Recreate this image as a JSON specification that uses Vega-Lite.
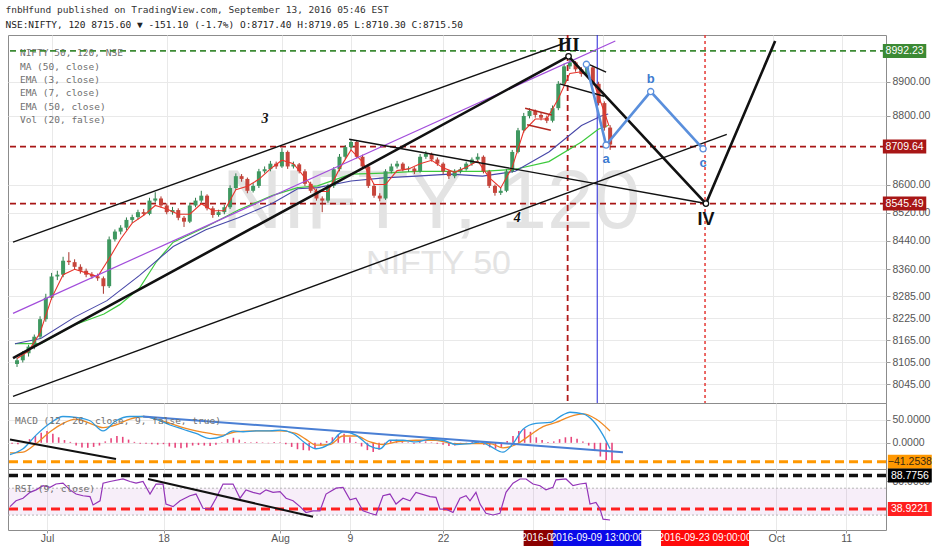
{
"$schema": "https://vega.github.io/schema/vega-lite/v6.json",
"background": "#ffffff",
"padding": {"left": 5, "top": 4, "right": 0, "bottom": 0},
"spacing": 0,
"bounds": "flush",
"title": {"text": "fnbHfund published on TradingView.com, September 13, 2016 05:46 EST", "subtitle": "NSE:NIFTY, 120 8715.60 ▼ -151.10 (-1.7%) O:8717.40 H:8719.05 L:8710.30 C:8715.50", "anchor": "start", "font": "DejaVu Sans Mono", "fontSize": 9.5, "fontWeight": "normal", "color": "#333333", "subtitleFont": "DejaVu Sans Mono", "subtitleFontSize": 9.5, "subtitleColor": "#222222", "subtitlePadding": 6, "offset": 4},
"config": {"view": {"stroke": "#8c8c8c", "strokeWidth": 1}, "axis": {"labelFont": "Liberation Sans", "labelFontSize": 10.5, "labelColor": "#555555", "tickColor": "#999999", "gridColor": "#e9e9e9", "domainColor": "#8c8c8c"}, "text": {"font": "Liberation Sans"}},
"datasets": {
"bars": [
{"d":-3.0,"o":8100,"h":8116,"l":8092,"c":8110,"m":-2},
{"d":-2.5,"o":8110,"h":8135,"l":8104,"c":8129,"m":-3},
{"d":-2.0,"o":8129,"h":8152,"l":8120,"c":8147,"m":2},
{"d":-1.5,"o":8147,"h":8180,"l":8140,"c":8174,"m":8},
{"d":-1.0,"o":8174,"h":8230,"l":8168,"c":8222,"m":15},
{"d":-0.5,"o":8222,"h":8292,"l":8215,"c":8281,"m":22},
{"d":0.0,"o":8281,"h":8350,"l":8276,"c":8340,"m":26},
{"d":0.5,"o":8340,"h":8356,"l":8330,"c":8345,"m":20},
{"d":1.0,"o":8345,"h":8395,"l":8338,"c":8384,"m":12},
{"d":1.5,"o":8384,"h":8408,"l":8372,"c":8380,"m":6},
{"d":2.0,"o":8380,"h":8388,"l":8360,"c":8367,"m":2},
{"d":2.5,"o":8367,"h":8374,"l":8348,"c":8356,"m":-6},
{"d":3.0,"o":8356,"h":8362,"l":8338,"c":8345,"m":-10},
{"d":3.5,"o":8345,"h":8352,"l":8334,"c":8340,"m":-11},
{"d":4.0,"o":8340,"h":8348,"l":8328,"c":8335,"m":-9},
{"d":4.5,"o":8335,"h":8340,"l":8292,"c":8313,"m":-6},
{"d":5.0,"o":8313,"h":8452,"l":8308,"c":8444,"m":3},
{"d":5.5,"o":8444,"h":8472,"l":8438,"c":8466,"m":10},
{"d":6.0,"o":8466,"h":8484,"l":8458,"c":8477,"m":15},
{"d":6.5,"o":8477,"h":8506,"l":8470,"c":8499,"m":13},
{"d":7.0,"o":8499,"h":8514,"l":8490,"c":8507,"m":7},
{"d":7.5,"o":8507,"h":8528,"l":8500,"c":8521,"m":2},
{"d":8.0,"o":8521,"h":8530,"l":8510,"c":8516,"m":-2},
{"d":8.5,"o":8516,"h":8562,"l":8512,"c":8554,"m":-2},
{"d":9.0,"o":8554,"h":8578,"l":8548,"c":8560,"m":-3},
{"d":9.5,"o":8560,"h":8566,"l":8534,"c":8540,"m":-4},
{"d":10.0,"o":8540,"h":8546,"l":8515,"c":8521,"m":-3},
{"d":10.5,"o":8521,"h":8536,"l":8514,"c":8527,"m":-8},
{"d":11.0,"o":8527,"h":8532,"l":8498,"c":8505,"m":-11},
{"d":11.5,"o":8505,"h":8510,"l":8479,"c":8494,"m":-12},
{"d":12.0,"o":8494,"h":8548,"l":8490,"c":8540,"m":-10},
{"d":12.5,"o":8540,"h":8562,"l":8535,"c":8554,"m":-6},
{"d":13.0,"o":8554,"h":8582,"l":8548,"c":8568,"m":-5},
{"d":13.5,"o":8568,"h":8572,"l":8526,"c":8532,"m":-6},
{"d":14.0,"o":8532,"h":8538,"l":8505,"c":8513,"m":-7},
{"d":14.5,"o":8513,"h":8528,"l":8508,"c":8521,"m":-4},
{"d":15.0,"o":8521,"h":8542,"l":8515,"c":8535,"m":1},
{"d":15.5,"o":8535,"h":8598,"l":8530,"c":8590,"m":8},
{"d":16.0,"o":8590,"h":8632,"l":8585,"c":8624,"m":11},
{"d":16.5,"o":8624,"h":8630,"l":8608,"c":8616,"m":7},
{"d":17.0,"o":8616,"h":8620,"l":8575,"c":8582,"m":2},
{"d":17.5,"o":8582,"h":8604,"l":8577,"c":8596,"m":1},
{"d":18.0,"o":8596,"h":8645,"l":8590,"c":8638,"m":2},
{"d":18.5,"o":8638,"h":8652,"l":8632,"c":8644,"m":1},
{"d":19.0,"o":8644,"h":8668,"l":8638,"c":8660,"m":-1},
{"d":19.5,"o":8660,"h":8666,"l":8645,"c":8652,"m":2},
{"d":20.0,"o":8652,"h":8705,"l":8648,"c":8694,"m":1},
{"d":20.5,"o":8694,"h":8698,"l":8645,"c":8652,"m":-3},
{"d":21.0,"o":8652,"h":8666,"l":8646,"c":8658,"m":-9},
{"d":21.5,"o":8658,"h":8662,"l":8632,"c":8638,"m":-14},
{"d":22.0,"o":8638,"h":8644,"l":8596,"c":8602,"m":-16},
{"d":22.5,"o":8602,"h":8608,"l":8576,"c":8582,"m":-17},
{"d":23.0,"o":8582,"h":8588,"l":8554,"c":8560,"m":-13},
{"d":23.5,"o":8560,"h":8566,"l":8521,"c":8554,"m":-6},
{"d":24.0,"o":8554,"h":8602,"l":8548,"c":8596,"m":4},
{"d":24.5,"o":8596,"h":8650,"l":8590,"c":8644,"m":12},
{"d":25.0,"o":8644,"h":8688,"l":8638,"c":8680,"m":18},
{"d":25.5,"o":8680,"h":8714,"l":8674,"c":8708,"m":20},
{"d":26.0,"o":8708,"h":8731,"l":8700,"c":8723,"m":12},
{"d":26.5,"o":8723,"h":8726,"l":8675,"c":8680,"m":2},
{"d":27.0,"o":8680,"h":8686,"l":8646,"c":8652,"m":-8},
{"d":27.5,"o":8652,"h":8658,"l":8590,"c":8596,"m":-16},
{"d":28.0,"o":8596,"h":8602,"l":8562,"c":8568,"m":-20},
{"d":28.5,"o":8568,"h":8575,"l":8552,"c":8560,"m":-15},
{"d":29.0,"o":8560,"h":8644,"l":8556,"c":8638,"m":-5},
{"d":29.5,"o":8638,"h":8660,"l":8632,"c":8652,"m":4},
{"d":30.0,"o":8652,"h":8668,"l":8646,"c":8660,"m":7},
{"d":30.5,"o":8660,"h":8664,"l":8638,"c":8644,"m":5},
{"d":31.0,"o":8644,"h":8652,"l":8636,"c":8646,"m":1},
{"d":31.5,"o":8646,"h":8650,"l":8630,"c":8638,"m":-2},
{"d":32.0,"o":8638,"h":8688,"l":8634,"c":8680,"m":2},
{"d":32.5,"o":8680,"h":8696,"l":8674,"c":8688,"m":3},
{"d":33.0,"o":8688,"h":8692,"l":8666,"c":8672,"m":1},
{"d":33.5,"o":8672,"h":8678,"l":8654,"c":8660,"m":-2},
{"d":34.0,"o":8660,"h":8664,"l":8630,"c":8638,"m":-4},
{"d":34.5,"o":8638,"h":8642,"l":8616,"c":8624,"m":-7},
{"d":35.0,"o":8624,"h":8644,"l":8618,"c":8638,"m":-6},
{"d":35.5,"o":8638,"h":8650,"l":8632,"c":8644,"m":-3},
{"d":36.0,"o":8644,"h":8666,"l":8640,"c":8660,"m":-1},
{"d":36.5,"o":8660,"h":8678,"l":8654,"c":8672,"m":2},
{"d":37.0,"o":8672,"h":8690,"l":8666,"c":8680,"m":3},
{"d":37.5,"o":8680,"h":8684,"l":8632,"c":8638,"m":-4},
{"d":38.0,"o":8638,"h":8642,"l":8590,"c":8596,"m":-10},
{"d":38.5,"o":8596,"h":8600,"l":8568,"c":8576,"m":-13},
{"d":39.0,"o":8576,"h":8590,"l":8570,"c":8582,"m":-9},
{"d":39.5,"o":8582,"h":8644,"l":8578,"c":8638,"m":4},
{"d":40.0,"o":8638,"h":8700,"l":8634,"c":8694,"m":15},
{"d":40.5,"o":8694,"h":8764,"l":8690,"c":8757,"m":26},
{"d":41.0,"o":8757,"h":8808,"l":8750,"c":8799,"m":30},
{"d":41.5,"o":8799,"h":8822,"l":8792,"c":8814,"m":24},
{"d":42.0,"o":8814,"h":8818,"l":8794,"c":8802,"m":12},
{"d":42.5,"o":8802,"h":8808,"l":8786,"c":8794,"m":6},
{"d":43.0,"o":8794,"h":8800,"l":8778,"c":8785,"m":2},
{"d":43.5,"o":8785,"h":8830,"l":8780,"c":8822,"m":3},
{"d":44.0,"o":8822,"h":8902,"l":8816,"c":8894,"m":8},
{"d":44.5,"o":8894,"h":8954,"l":8888,"c":8946,"m":12},
{"d":45.0,"o":8946,"h":8972,"l":8938,"c":8958,"m":13},
{"d":45.5,"o":8958,"h":8962,"l":8930,"c":8937,"m":9},
{"d":46.0,"o":8937,"h":8944,"l":8915,"c":8923,"m":3},
{"d":46.5,"o":8923,"h":8950,"l":8918,"c":8943,"m":-6},
{"d":47.0,"o":8943,"h":8948,"l":8888,"c":8894,"m":-18},
{"d":47.5,"o":8894,"h":8900,"l":8830,"c":8837,"m":-30},
{"d":48.0,"o":8837,"h":8842,"l":8756,"c":8765,"m":-38},
{"d":48.5,"o":8765,"h":8772,"l":8700,"c":8715.5,"m":-41}
],
"ema7": [
{"d":-3,"p":8115},{"d":-2,"p":8135},{"d":-1,"p":8185},{"d":0,"p":8280},{"d":1,"p":8345},{"d":2,"p":8360},{"d":3,"p":8350},{"d":4,"p":8340},{"d":5,"p":8390},{"d":6,"p":8445},{"d":7,"p":8490},{"d":8,"p":8512},{"d":9,"p":8540},{"d":10,"p":8530},{"d":11,"p":8515},{"d":12,"p":8515},{"d":13,"p":8545},{"d":14,"p":8525},{"d":15,"p":8525},{"d":16,"p":8585},{"d":17,"p":8595},{"d":18,"p":8615},{"d":19,"p":8645},{"d":20,"p":8670},{"d":21,"p":8660},{"d":22,"p":8620},{"d":23,"p":8580},{"d":24,"p":8580},{"d":25,"p":8645},{"d":26,"p":8700},{"d":27,"p":8665},{"d":28,"p":8600},{"d":29,"p":8600},{"d":30,"p":8640},{"d":31,"p":8645},{"d":32,"p":8660},{"d":33,"p":8670},{"d":34,"p":8648},{"d":35,"p":8635},{"d":36,"p":8650},{"d":37,"p":8668},{"d":38,"p":8620},{"d":39,"p":8590},{"d":40,"p":8650},{"d":41,"p":8755},{"d":42,"p":8790},{"d":43,"p":8790},{"d":44,"p":8850},{"d":45,"p":8925},{"d":46,"p":8930},{"d":47,"p":8905},{"d":48,"p":8810},{"d":48.4,"p":8770}
],
"ma50": [
{"d":-3.18,"p":8155},{"d":-0.94,"p":8169},{"d":1.97,"p":8227},{"d":4.81,"p":8273},{"d":7.64,"p":8343},{"d":10.56,"p":8424},{"d":13.39,"p":8471},{"d":16.22,"p":8505},{"d":19.14,"p":8546},{"d":21.37,"p":8588},{"d":23.09,"p":8591},{"d":26.0,"p":8610},{"d":28.84,"p":8619},{"d":31.67,"p":8624},{"d":34.59,"p":8630},{"d":37.42,"p":8624},{"d":40.26,"p":8638},{"d":43.18,"p":8694},{"d":46.01,"p":8771},{"d":47.73,"p":8799},{"d":48.33,"p":8805}
],
"ema50": [
{"d":-3.18,"p":8155},{"d":-0.94,"p":8155},{"d":1.97,"p":8206},{"d":4.55,"p":8236},{"d":5.92,"p":8262},{"d":7.64,"p":8308},{"d":9.1,"p":8381},{"d":10.56,"p":8436},{"d":13.39,"p":8479},{"d":16.22,"p":8527},{"d":19.14,"p":8568},{"d":21.37,"p":8591},{"d":23.09,"p":8596},{"d":26.0,"p":8630},{"d":28.84,"p":8633},{"d":31.67,"p":8638},{"d":34.59,"p":8638},{"d":37.42,"p":8638},{"d":40.26,"p":8644},{"d":43.18,"p":8666},{"d":46.01,"p":8723},{"d":47.47,"p":8760},{"d":48.33,"p":8771}
],
"thin": [
{"id":"L1","d":-3.35,"p":8436},{"id":"L1","d":44.81,"p":9019},
{"id":"L3","d":-3.35,"p":8013},{"id":"L3","d":58.63,"p":8745},
{"id":"L4","d":25.84,"p":8731},{"id":"L4","d":56.82,"p":8545.49},
{"id":"L5","d":44.12,"p":8894},{"id":"L5","d":47.98,"p":8857},
{"id":"L6","d":46.27,"p":8958},{"id":"L6","d":48.15,"p":8929}
],
"thick": [{"d":-3.35,"p":8116},{"d":44.89,"p":8976},{"d":56.82,"p":8545.49},{"d":62.83,"p":9022}],
"purple": [{"d":-3.35,"p":8238},{"d":48.95,"p":9022}],
"flag": [{"id":"F1","d":41.12,"p":8822},{"id":"F1","d":43.43,"p":8802},{"id":"F2","d":41.29,"p":8773},{"id":"F2","d":43.35,"p":8757}],
"abc": [{"d":46.44,"p":8952,"t":""},{"d":48.15,"p":8714,"t":"a"},{"d":52.02,"p":8871,"t":"b"},{"d":56.57,"p":8703,"t":"c"}],
"waves": [{"d":44.89,"p":8976,"t":"III"},{"d":56.82,"p":8545.49,"t":"IV"}],
"minor": [{"d":18.54,"p":8791,"t":"3"},{"d":40.43,"p":8505,"t":"4"}],
"plabels": [{"p":8992.23,"k":"g"},{"p":8709.64,"k":"r"},{"p":8545.49,"k":"r"}],
"tags": [{"d":44.81,"k":"a","t":"2016-09-07 13:00:00"},{"d":47.38,"k":"b","t":"2016-09-09 13:00:00"},{"d":56.74,"k":"c","t":"2016-09-23 09:00:00"}],
"macd": [
{"d":-3.18,"v":-25.9},{"d":-2.06,"v":-13.0},{"d":-0.94,"v":16.7},{"d":0.26,"v":42.6},{"d":1.37,"v":57.4},{"d":2.49,"v":55.6},{"d":3.69,"v":48.1},{"d":4.81,"v":25.9},{"d":5.92,"v":48.1},{"d":7.12,"v":57.4},{"d":8.24,"v":57.4},{"d":9.36,"v":51.9},{"d":10.56,"v":38.9},{"d":11.67,"v":29.6},{"d":12.79,"v":20.4},{"d":13.99,"v":9.3},{"d":15.11,"v":14.8},{"d":15.97,"v":25.9},{"d":16.82,"v":24.1},{"d":17.94,"v":25.9},{"d":19.14,"v":25.9},{"d":20.0,"v":27.8},{"d":21.12,"v":20.4},{"d":22.23,"v":-1.9},{"d":23.09,"v":-13.0},{"d":24.29,"v":-1.9},{"d":25.41,"v":24.1},{"d":26.52,"v":16.7},{"d":27.73,"v":-7.4},{"d":28.58,"v":-13.0},{"d":29.44,"v":5.6},{"d":30.56,"v":5.6},{"d":31.67,"v":1.9},{"d":32.88,"v":7.4},{"d":33.99,"v":5.6},{"d":35.11,"v":-3.7},{"d":36.31,"v":-1.9},{"d":37.17,"v":1.9},{"d":38.03,"v":-7.4},{"d":39.14,"v":-20.4},{"d":40.0,"v":-1.9},{"d":40.86,"v":29.6},{"d":41.97,"v":42.6},{"d":43.18,"v":44.4},{"d":44.29,"v":61.1},{"d":44.89,"v":66.7},{"d":46.01,"v":63.0},{"d":46.87,"v":48.1},{"d":47.73,"v":16.7},{"d":48.33,"v":-13.0}
],
"signal": [
{"d":-3.18,"v":-22.2},{"d":-2.06,"v":-20.4},{"d":-0.94,"v":-1.9},{"d":0.26,"v":24.1},{"d":1.37,"v":42.6},{"d":2.49,"v":51.9},{"d":3.69,"v":42.6},{"d":4.81,"v":33.3},{"d":5.92,"v":38.9},{"d":7.12,"v":51.9},{"d":8.24,"v":57.4},{"d":9.36,"v":51.9},{"d":10.56,"v":42.6},{"d":11.67,"v":33.3},{"d":12.79,"v":25.9},{"d":13.99,"v":20.4},{"d":15.11,"v":16.7},{"d":16.22,"v":24.1},{"d":17.94,"v":25.9},{"d":20.0,"v":25.9},{"d":21.37,"v":20.4},{"d":22.2,"v":8.0},{"d":23.09,"v":-5.0},{"d":24.29,"v":-3.7},{"d":25.41,"v":14.8},{"d":26.52,"v":14.8},{"d":27.73,"v":1.9},{"d":28.84,"v":-3.7},{"d":29.96,"v":1.9},{"d":31.67,"v":5.6},{"d":33.39,"v":5.6},{"d":34.85,"v":-1.9},{"d":36.31,"v":-1.9},{"d":38.03,"v":-1.9},{"d":39.14,"v":-11.1},{"d":40.26,"v":-3.7},{"d":41.46,"v":16.7},{"d":42.58,"v":35.2},{"d":43.69,"v":44.4},{"d":44.89,"v":57.4},{"d":46.01,"v":63.0},{"d":47.12,"v":51.9},{"d":48.33,"v":25.9}
],
"rsi": [
{"d":-3.18,"v":42.6},{"d":-2.66,"v":51.3},{"d":-2.06,"v":55.1},{"d":-1.46,"v":63.8},{"d":-0.94,"v":67.5},{"d":-0.34,"v":73.7},{"d":0.26,"v":71.2},{"d":0.77,"v":76.2},{"d":1.37,"v":77.5},{"d":1.97,"v":67.5},{"d":2.49,"v":61.3},{"d":3.09,"v":58.8},{"d":3.69,"v":57.6},{"d":3.95,"v":45.1},{"d":4.55,"v":51.3},{"d":4.81,"v":77.5},{"d":5.41,"v":80.0},{"d":6.52,"v":83.7},{"d":7.12,"v":80.0},{"d":7.64,"v":77.5},{"d":8.24,"v":80.0},{"d":8.84,"v":61.3},{"d":9.36,"v":76.2},{"d":9.96,"v":76.2},{"d":10.21,"v":46.4},{"d":10.82,"v":42.6},{"d":11.42,"v":51.3},{"d":12.27,"v":58.8},{"d":12.79,"v":61.3},{"d":13.39,"v":40.1},{"d":13.99,"v":38.9},{"d":14.51,"v":55.1},{"d":15.11,"v":76.2},{"d":15.97,"v":76.2},{"d":16.57,"v":55.1},{"d":17.08,"v":67.5},{"d":17.68,"v":63.8},{"d":18.28,"v":61.3},{"d":18.8,"v":67.5},{"d":19.4,"v":63.8},{"d":20.0,"v":65.0},{"d":20.52,"v":55.1},{"d":21.12,"v":51.3},{"d":21.72,"v":42.6},{"d":22.23,"v":33.9},{"d":22.83,"v":36.4},{"d":23.43,"v":36.4},{"d":23.95,"v":61.3},{"d":24.81,"v":70.0},{"d":25.41,"v":71.2},{"d":26.01,"v":52.6},{"d":26.52,"v":55.1},{"d":27.12,"v":36.4},{"d":27.73,"v":32.7},{"d":28.24,"v":30.2},{"d":28.84,"v":58.8},{"d":29.44,"v":61.3},{"d":29.96,"v":46.4},{"d":30.56,"v":55.1},{"d":31.16,"v":51.3},{"d":31.67,"v":63.8},{"d":32.88,"v":57.6},{"d":33.39,"v":56.3},{"d":33.73,"v":38.9},{"d":34.25,"v":38.9},{"d":34.85,"v":33.9},{"d":35.45,"v":55.1},{"d":35.97,"v":58.8},{"d":36.31,"v":51.3},{"d":36.82,"v":63.8},{"d":37.17,"v":46.4},{"d":37.68,"v":32.7},{"d":38.28,"v":30.2},{"d":38.88,"v":32.7},{"d":39.4,"v":63.8},{"d":40.0,"v":77.5},{"d":40.6,"v":83.7},{"d":41.12,"v":83.7},{"d":41.72,"v":76.2},{"d":42.32,"v":73.7},{"d":42.83,"v":67.5},{"d":43.43,"v":71.2},{"d":43.69,"v":82.4},{"d":44.55,"v":83.7},{"d":45.15,"v":73.7},{"d":45.75,"v":76.2},{"d":46.27,"v":77.5},{"d":46.61,"v":46.4},{"d":47.12,"v":48.9},{"d":47.47,"v":38.9},{"d":47.73,"v":24.0},{"d":48.33,"v":22.7}
],
"macdTrend": [{"d":8.24,"v":57.4},{"d":49.44,"v":-20.4}],
"macdBlack": [{"d":-3.18,"v":7.4},{"d":5.92,"v":-35.2}],
"rsiBlack": [{"d":8.67,"v":83.7},{"d":22.83,"v":27.7}]
},
"vconcat": [
{
"width": 878, "height": 368,
"layer": [
{"data": {"values": [{"d": 32.96, "p": 8546, "t": "NIFTY, 120"}]},
 "mark": {"type": "text", "fontSize": 84, "color": "#e3e3e3", "align": "center", "baseline": "middle"},
 "encoding": {
  "x": {"field": "d", "type": "quantitative", "title": null, "scale": {"domain": [-3.35, 72.02], "nice": false, "zero": false}, "axis": {"values": [0, 10, 20, 26, 34, 41.72, 47.9, 62.6, 68.6], "labels": false, "ticks": false, "domain": false, "grid": true, "title": null}},
  "y": {"field": "p", "type": "quantitative", "title": null, "scale": {"type": "log", "domain": [8008.5, 9025], "nice": false}, "axis": {"orient": "right", "values": [8045, 8105, 8165, 8225, 8285, 8360, 8440, 8520, 8600, 8800, 8900], "format": ".2f", "grid": true, "domain": false, "tickSize": 4, "labelPadding": 2, "title": null}},
  "text": {"field": "t"}}},
{"data": {"values": [{"d": 33.6, "p": 8376, "t": "NIFTY 50"}]},
 "mark": {"type": "text", "fontSize": 34, "color": "#e3e3e3", "align": "center", "baseline": "middle"},
 "encoding": {
  "x": {"field": "d", "type": "quantitative", "title": null, "scale": {"domain": [-3.35, 72.02], "nice": false, "zero": false}},
  "y": {"field": "p", "type": "quantitative", "title": null, "scale": {"type": "log", "domain": [8008.5, 9025], "nice": false}},
  "text": {"field": "t"}}},
{"data": {"values": [{"t": "NIFTY 50, 120, NSE\nMA (50, close)\nEMA (3, close)\nEMA (7, close)\nEMA (50, close)\nVol (20, false)"}]},
 "mark": {"type": "text", "font": "DejaVu Sans Mono", "fontSize": 9.5, "color": "#707070", "align": "left", "baseline": "top", "lineBreak": "\n", "lineHeight": 13.4},
 "encoding": {
  "x": {"datum": -2.75, "scale": {"domain": [-3.35, 72.02], "nice": false, "zero": false}},
  "y": {"datum": 9000, "scale": {"type": "log", "domain": [8008.5, 9025], "nice": false}},
  "text": {"field": "t"}}},
{"data": {"name": "plabels"},
 "mark": {"type": "rule", "strokeDash": [6, 4], "strokeWidth": 1.8},
 "encoding": {
  "y": {"field": "p", "type": "quantitative", "title": null, "scale": {"type": "log", "domain": [8008.5, 9025], "nice": false}},
  "color": {"field": "k", "type": "nominal", "scale": {"domain": ["g", "r"], "range": ["#3c8a34", "#a81616"]}, "legend": null}}},
{"data": {"name": "tags"}, "transform": [{"filter": "datum.k == 'a'"}],
 "mark": {"type": "rule", "color": "#b01818", "strokeDash": [6, 4], "strokeWidth": 1.8},
 "encoding": {"x": {"field": "d", "type": "quantitative", "title": null, "scale": {"domain": [-3.35, 72.02], "nice": false, "zero": false}}}},
{"data": {"name": "tags"}, "transform": [{"filter": "datum.k == 'b'"}],
 "mark": {"type": "rule", "color": "#2323d8", "strokeWidth": 1},
 "encoding": {"x": {"field": "d", "type": "quantitative", "title": null, "scale": {"domain": [-3.35, 72.02], "nice": false, "zero": false}}}},
{"data": {"name": "tags"}, "transform": [{"filter": "datum.k == 'c'"}],
 "mark": {"type": "rule", "color": "#e53935", "strokeDash": [3, 3], "strokeWidth": 1.5},
 "encoding": {"x": {"field": "d", "type": "quantitative", "title": null, "scale": {"domain": [-3.35, 72.02], "nice": false, "zero": false}}}},
{"data": {"name": "ema50"},
 "mark": {"type": "line", "color": "#3cc93c", "strokeWidth": 1.2},
 "encoding": {
  "x": {"field": "d", "type": "quantitative", "title": null, "scale": {"domain": [-3.35, 72.02], "nice": false, "zero": false}},
  "y": {"field": "p", "type": "quantitative", "title": null, "scale": {"type": "log", "domain": [8008.5, 9025], "nice": false}}}},
{"data": {"name": "ma50"},
 "mark": {"type": "line", "color": "#4747a8", "strokeWidth": 1.1},
 "encoding": {
  "x": {"field": "d", "type": "quantitative", "title": null, "scale": {"domain": [-3.35, 72.02], "nice": false, "zero": false}},
  "y": {"field": "p", "type": "quantitative", "title": null, "scale": {"type": "log", "domain": [8008.5, 9025], "nice": false}}}},
{"data": {"name": "bars"},
 "mark": {"type": "rule", "strokeWidth": 1},
 "encoding": {
  "x": {"field": "d", "type": "quantitative", "title": null, "scale": {"domain": [-3.35, 72.02], "nice": false, "zero": false}},
  "y": {"field": "l", "type": "quantitative", "title": null, "scale": {"type": "log", "domain": [8008.5, 9025], "nice": false}},
  "y2": {"field": "h"},
  "color": {"condition": {"test": "datum.c >= datum.o", "value": "#2f7a4a"}, "value": "#a8322a"}}},
{"data": {"name": "bars"},
 "mark": {"type": "bar", "width": 4},
 "encoding": {
  "x": {"field": "d", "type": "quantitative", "title": null, "scale": {"domain": [-3.35, 72.02], "nice": false, "zero": false}},
  "y": {"field": "o", "type": "quantitative", "title": null, "scale": {"type": "log", "domain": [8008.5, 9025], "nice": false}},
  "y2": {"field": "c"},
  "color": {"condition": {"test": "datum.c >= datum.o", "value": "#3f9860"}, "value": "#c7453b"}}},
{"data": {"name": "ema7"},
 "mark": {"type": "line", "color": "#e8332a", "strokeWidth": 1.1},
 "encoding": {
  "x": {"field": "d", "type": "quantitative", "title": null, "scale": {"domain": [-3.35, 72.02], "nice": false, "zero": false}},
  "y": {"field": "p", "type": "quantitative", "title": null, "scale": {"type": "log", "domain": [8008.5, 9025], "nice": false}}}},
{"data": {"name": "purple"},
 "mark": {"type": "line", "color": "#a24ddb", "strokeWidth": 1.2},
 "encoding": {
  "x": {"field": "d", "type": "quantitative", "title": null, "scale": {"domain": [-3.35, 72.02], "nice": false, "zero": false}},
  "y": {"field": "p", "type": "quantitative", "title": null, "scale": {"type": "log", "domain": [8008.5, 9025], "nice": false}}}},
{"data": {"name": "thin"},
 "mark": {"type": "line", "color": "#111111", "strokeWidth": 1.4},
 "encoding": {
  "x": {"field": "d", "type": "quantitative", "title": null, "scale": {"domain": [-3.35, 72.02], "nice": false, "zero": false}},
  "y": {"field": "p", "type": "quantitative", "title": null, "scale": {"type": "log", "domain": [8008.5, 9025], "nice": false}},
  "detail": {"field": "id"}}},
{"data": {"name": "thick"},
 "mark": {"type": "line", "color": "#111111", "strokeWidth": 2.6},
 "encoding": {
  "x": {"field": "d", "type": "quantitative", "title": null, "scale": {"domain": [-3.35, 72.02], "nice": false, "zero": false}},
  "y": {"field": "p", "type": "quantitative", "title": null, "scale": {"type": "log", "domain": [8008.5, 9025], "nice": false}}}},
{"data": {"name": "flag"},
 "mark": {"type": "line", "color": "#b3261e", "strokeWidth": 1.6},
 "encoding": {
  "x": {"field": "d", "type": "quantitative", "title": null, "scale": {"domain": [-3.35, 72.02], "nice": false, "zero": false}},
  "y": {"field": "p", "type": "quantitative", "title": null, "scale": {"type": "log", "domain": [8008.5, 9025], "nice": false}},
  "detail": {"field": "id"}}},
{"data": {"name": "abc"},
 "mark": {"type": "line", "color": "#5a8fdc", "strokeWidth": 2.6},
 "encoding": {
  "x": {"field": "d", "type": "quantitative", "title": null, "scale": {"domain": [-3.35, 72.02], "nice": false, "zero": false}},
  "y": {"field": "p", "type": "quantitative", "title": null, "scale": {"type": "log", "domain": [8008.5, 9025], "nice": false}}}},
{"data": {"name": "abc"},
 "mark": {"type": "point", "shape": "circle", "size": 38, "filled": true, "fill": "#ffffff", "stroke": "#5a8fdc", "strokeWidth": 1.3, "opacity": 1},
 "encoding": {
  "x": {"field": "d", "type": "quantitative", "title": null, "scale": {"domain": [-3.35, 72.02], "nice": false, "zero": false}},
  "y": {"field": "p", "type": "quantitative", "title": null, "scale": {"type": "log", "domain": [8008.5, 9025], "nice": false}}}},
{"data": {"name": "waves"},
 "mark": {"type": "point", "shape": "circle", "size": 30, "filled": true, "fill": "#ffffff", "stroke": "#111111", "strokeWidth": 1.3, "opacity": 1},
 "encoding": {
  "x": {"field": "d", "type": "quantitative", "title": null, "scale": {"domain": [-3.35, 72.02], "nice": false, "zero": false}},
  "y": {"field": "p", "type": "quantitative", "title": null, "scale": {"type": "log", "domain": [8008.5, 9025], "nice": false}}}},
{"data": {"name": "abc"}, "transform": [{"filter": "datum.t == 'a' || datum.t == 'c'"}],
 "mark": {"type": "text", "color": "#3d7bd0", "fontSize": 13, "fontWeight": "bold", "dy": 14, "baseline": "middle"},
 "encoding": {
  "x": {"field": "d", "type": "quantitative", "title": null, "scale": {"domain": [-3.35, 72.02], "nice": false, "zero": false}},
  "y": {"field": "p", "type": "quantitative", "title": null, "scale": {"type": "log", "domain": [8008.5, 9025], "nice": false}},
  "text": {"field": "t"}}},
{"data": {"name": "abc"}, "transform": [{"filter": "datum.t == 'b'"}],
 "mark": {"type": "text", "color": "#3d7bd0", "fontSize": 13, "fontWeight": "bold", "dy": -13, "baseline": "middle"},
 "encoding": {
  "x": {"field": "d", "type": "quantitative", "title": null, "scale": {"domain": [-3.35, 72.02], "nice": false, "zero": false}},
  "y": {"field": "p", "type": "quantitative", "title": null, "scale": {"type": "log", "domain": [8008.5, 9025], "nice": false}},
  "text": {"field": "t"}}},
{"data": {"name": "waves"}, "transform": [{"filter": "datum.t == 'III'"}],
 "mark": {"type": "text", "color": "#111111", "fontSize": 19, "fontWeight": "bold", "font": "Liberation Serif", "dy": -11, "baseline": "middle"},
 "encoding": {
  "x": {"field": "d", "type": "quantitative", "title": null, "scale": {"domain": [-3.35, 72.02], "nice": false, "zero": false}},
  "y": {"field": "p", "type": "quantitative", "title": null, "scale": {"type": "log", "domain": [8008.5, 9025], "nice": false}},
  "text": {"field": "t"}}},
{"data": {"name": "waves"}, "transform": [{"filter": "datum.t == 'IV'"}],
 "mark": {"type": "text", "color": "#111111", "fontSize": 18, "fontWeight": "bold", "font": "Liberation Sans", "dy": 16, "baseline": "middle"},
 "encoding": {
  "x": {"field": "d", "type": "quantitative", "title": null, "scale": {"domain": [-3.35, 72.02], "nice": false, "zero": false}},
  "y": {"field": "p", "type": "quantitative", "title": null, "scale": {"type": "log", "domain": [8008.5, 9025], "nice": false}},
  "text": {"field": "t"}}},
{"data": {"name": "minor"},
 "mark": {"type": "text", "color": "#111111", "fontSize": 14, "fontWeight": "bold", "fontStyle": "italic", "font": "Liberation Serif", "baseline": "middle"},
 "encoding": {
  "x": {"field": "d", "type": "quantitative", "title": null, "scale": {"domain": [-3.35, 72.02], "nice": false, "zero": false}},
  "y": {"field": "p", "type": "quantitative", "title": null, "scale": {"type": "log", "domain": [8008.5, 9025], "nice": false}},
  "text": {"field": "t"}}},
{"data": {"name": "plabels"},
 "mark": {"type": "bar", "height": 14},
 "encoding": {
  "x": {"datum": 72.18, "scale": {"domain": [-3.35, 72.02], "nice": false, "zero": false}},
  "x2": {"datum": 75.95},
  "y": {"field": "p", "type": "quantitative", "title": null, "scale": {"type": "log", "domain": [8008.5, 9025], "nice": false}},
  "color": {"field": "k", "type": "nominal", "scale": {"domain": ["g", "r"], "range": ["#3c8a34", "#a81616"]}, "legend": null}}},
{"data": {"name": "plabels"},
 "mark": {"type": "text", "color": "#ffffff", "fontSize": 10.5, "align": "center", "baseline": "middle"},
 "encoding": {
  "x": {"datum": 74.07, "scale": {"domain": [-3.35, 72.02], "nice": false, "zero": false}},
  "y": {"field": "p", "type": "quantitative", "title": null, "scale": {"type": "log", "domain": [8008.5, 9025], "nice": false}},
  "text": {"field": "p", "type": "quantitative", "format": ".2f"}}}
]
},
{
"width": 878, "height": 66,
"layer": [
{"data": {"name": "bars"},
 "mark": {"type": "rule", "color": "#e8467c", "strokeWidth": 1.6},
 "encoding": {
  "x": {"field": "d", "type": "quantitative", "title": null, "scale": {"domain": [-3.35, 72.02], "nice": false, "zero": false}, "axis": {"values": [0, 10, 20, 26, 34, 41.72, 47.9, 62.6, 68.6], "labels": false, "ticks": false, "domain": false, "grid": true, "title": null}},
  "y": {"field": "m", "type": "quantitative", "title": null, "scale": {"domain": [-46.3, 76], "nice": false, "zero": false}, "axis": {"orient": "right", "values": [50, 0], "format": ".4f", "grid": true, "domain": false, "tickSize": 4, "labelPadding": 2, "title": null}},
  "y2": {"datum": 0}}},
{"data": {"values": [{"v": -41.2538}]},
 "mark": {"type": "rule", "color": "#ff9800", "strokeDash": [9, 5], "strokeWidth": 3},
 "encoding": {"y": {"field": "v", "type": "quantitative", "title": null, "scale": {"domain": [-46.3, 76], "nice": false, "zero": false}}}},
{"data": {"name": "signal"},
 "mark": {"type": "line", "color": "#f08a24", "strokeWidth": 1.3, "interpolate": "monotone"},
 "encoding": {
  "x": {"field": "d", "type": "quantitative", "title": null, "scale": {"domain": [-3.35, 72.02], "nice": false, "zero": false}},
  "y": {"field": "v", "type": "quantitative", "title": null, "scale": {"domain": [-46.3, 76], "nice": false, "zero": false}}}},
{"data": {"name": "macd"},
 "mark": {"type": "line", "color": "#2d9ae0", "strokeWidth": 1.3, "interpolate": "monotone"},
 "encoding": {
  "x": {"field": "d", "type": "quantitative", "title": null, "scale": {"domain": [-3.35, 72.02], "nice": false, "zero": false}},
  "y": {"field": "v", "type": "quantitative", "title": null, "scale": {"domain": [-46.3, 76], "nice": false, "zero": false}}}},
{"data": {"name": "macdTrend"},
 "mark": {"type": "line", "color": "#4a7fd4", "strokeWidth": 2},
 "encoding": {
  "x": {"field": "d", "type": "quantitative", "title": null, "scale": {"domain": [-3.35, 72.02], "nice": false, "zero": false}},
  "y": {"field": "v", "type": "quantitative", "title": null, "scale": {"domain": [-46.3, 76], "nice": false, "zero": false}}}},
{"data": {"name": "macdBlack"},
 "mark": {"type": "line", "color": "#111111", "strokeWidth": 2},
 "encoding": {
  "x": {"field": "d", "type": "quantitative", "title": null, "scale": {"domain": [-3.35, 72.02], "nice": false, "zero": false}},
  "y": {"field": "v", "type": "quantitative", "title": null, "scale": {"domain": [-46.3, 76], "nice": false, "zero": false}}}},
{"data": {"values": [{"t": "MACD (12, 26, close, 9, false, true)"}]},
 "mark": {"type": "text", "font": "DejaVu Sans Mono", "fontSize": 9.5, "color": "#707070", "align": "left", "baseline": "top"},
 "encoding": {
  "x": {"datum": -2.75, "scale": {"domain": [-3.35, 72.02], "nice": false, "zero": false}},
  "y": {"datum": 59, "scale": {"domain": [-46.3, 76], "nice": false, "zero": false}},
  "text": {"field": "t"}}},
{"data": {"values": [{"v": -41.2538}]},
 "mark": {"type": "bar", "height": 14, "color": "#ff9800"},
 "encoding": {
  "x": {"datum": 72.18, "scale": {"domain": [-3.35, 72.02], "nice": false, "zero": false}},
  "x2": {"datum": 75.95},
  "y": {"field": "v", "type": "quantitative", "title": null, "scale": {"domain": [-46.3, 76], "nice": false, "zero": false}}}},
{"data": {"values": [{"v": -41.2538}]},
 "mark": {"type": "text", "color": "#3a2a10", "fontSize": 10.5, "align": "center", "baseline": "middle"},
 "encoding": {
  "x": {"datum": 74.07, "scale": {"domain": [-3.35, 72.02], "nice": false, "zero": false}},
  "y": {"field": "v", "type": "quantitative", "title": null, "scale": {"domain": [-46.3, 76], "nice": false, "zero": false}},
  "text": {"field": "v", "type": "quantitative", "format": ".4f"}}}
]
},
{
"width": 878, "height": 61,
"layer": [
{"data": {"values": [{"lo": 30, "hi": 70}]},
 "mark": {"type": "rect", "color": "#9c27b0", "opacity": 0.08},
 "encoding": {
  "x": {"datum": -3.35, "scale": {"domain": [-3.35, 72.02], "nice": false, "zero": false}, "axis": {"values": [0, 10, 20, 26, 34, 41.72, 47.9, 62.6, 68.6], "labelExpr": "datum.value == 0 ? 'Jul' : datum.value == 10 ? '18' : datum.value == 20 ? 'Aug' : datum.value == 26 ? '9' : datum.value == 34 ? '22' : datum.value == 62.6 ? 'Oct' : datum.value == 68.6 ? '11' : ''", "grid": true, "domain": false, "tickSize": 3, "labelPadding": 0, "labelColor": "#555555", "labelFontSize": 10.5, "labelOverlap": false, "labelFlush": false, "title": null}},
  "x2": {"datum": 72.02},
  "y": {"field": "lo", "type": "quantitative", "title": null, "scale": {"domain": [15.3, 91.1], "nice": false, "zero": false}, "axis": {"orient": "right", "values": [80], "format": ".4f", "grid": false, "domain": false, "tickSize": 4, "labelPadding": 2, "title": null}},
  "y2": {"field": "hi"}}},
{"data": {"values": [{"v": 30}, {"v": 70}]},
 "mark": {"type": "rule", "color": "#b5b5b5", "strokeDash": [2, 2], "strokeWidth": 1},
 "encoding": {"y": {"field": "v", "type": "quantitative", "title": null, "scale": {"domain": [15.3, 91.1], "nice": false, "zero": false}}}},
{"data": {"values": [{"v": 88.7756}]},
 "mark": {"type": "rule", "color": "#111111", "strokeDash": [9, 5], "strokeWidth": 3.5},
 "encoding": {"y": {"field": "v", "type": "quantitative", "title": null, "scale": {"domain": [15.3, 91.1], "nice": false, "zero": false}}}},
{"data": {"values": [{"v": 38.9221}]},
 "mark": {"type": "rule", "color": "#ff1f1f", "strokeDash": [9, 5], "strokeWidth": 3},
 "encoding": {"y": {"field": "v", "type": "quantitative", "title": null, "scale": {"domain": [15.3, 91.1], "nice": false, "zero": false}}}},
{"data": {"name": "rsi"},
 "mark": {"type": "line", "color": "#9334b8", "strokeWidth": 1.2},
 "encoding": {
  "x": {"field": "d", "type": "quantitative", "title": null, "scale": {"domain": [-3.35, 72.02], "nice": false, "zero": false}},
  "y": {"field": "v", "type": "quantitative", "title": null, "scale": {"domain": [15.3, 91.1], "nice": false, "zero": false}}}},
{"data": {"name": "rsiBlack"},
 "mark": {"type": "line", "color": "#111111", "strokeWidth": 2},
 "encoding": {
  "x": {"field": "d", "type": "quantitative", "title": null, "scale": {"domain": [-3.35, 72.02], "nice": false, "zero": false}},
  "y": {"field": "v", "type": "quantitative", "title": null, "scale": {"domain": [15.3, 91.1], "nice": false, "zero": false}}}},
{"data": {"values": [{"t": "RSI (9, close)"}]},
 "mark": {"type": "text", "font": "DejaVu Sans Mono", "fontSize": 9.5, "color": "#707070", "align": "left", "baseline": "top"},
 "encoding": {
  "x": {"datum": -2.75, "scale": {"domain": [-3.35, 72.02], "nice": false, "zero": false}},
  "y": {"datum": 76.2, "scale": {"domain": [15.3, 91.1], "nice": false, "zero": false}},
  "text": {"field": "t"}}},
{"data": {"values": [{"v": 88.7756}]},
 "mark": {"type": "bar", "height": 14, "color": "#000000"},
 "encoding": {
  "x": {"datum": 72.18, "scale": {"domain": [-3.35, 72.02], "nice": false, "zero": false}},
  "x2": {"datum": 75.95},
  "y": {"field": "v", "type": "quantitative", "title": null, "scale": {"domain": [15.3, 91.1], "nice": false, "zero": false}}}},
{"data": {"values": [{"v": 38.9221}]},
 "mark": {"type": "bar", "height": 14, "color": "#ff1f1f"},
 "encoding": {
  "x": {"datum": 72.18, "scale": {"domain": [-3.35, 72.02], "nice": false, "zero": false}},
  "x2": {"datum": 75.95},
  "y": {"field": "v", "type": "quantitative", "title": null, "scale": {"domain": [15.3, 91.1], "nice": false, "zero": false}}}},
{"data": {"values": [{"v": 88.7756}, {"v": 38.9221}]},
 "mark": {"type": "text", "color": "#ffffff", "fontSize": 10.5, "align": "center", "baseline": "middle"},
 "encoding": {
  "x": {"datum": 74.07, "scale": {"domain": [-3.35, 72.02], "nice": false, "zero": false}},
  "y": {"field": "v", "type": "quantitative", "title": null, "scale": {"domain": [15.3, 91.1], "nice": false, "zero": false}},
  "text": {"field": "v", "type": "quantitative", "format": ".4f"}}}
]
},
{
"width": 878, "height": 16,
"view": {"stroke": null},
"layer": [
{"data": {"name": "tags"}, "transform": [{"filter": "datum.k == 'a'"}],
 "mark": {"type": "bar", "width": 88, "color": "#8b0000"},
 "encoding": {
  "x": {"field": "d", "type": "quantitative", "title": null, "scale": {"domain": [-3.35, 72.02], "nice": false, "zero": false}, "axis": null},
  "y": {"datum": 0, "scale": {"domain": [0, 1], "nice": false}, "axis": null},
  "y2": {"datum": 1}}},
{"data": {"name": "tags"}, "transform": [{"filter": "datum.k == 'a'"}],
 "mark": {"type": "text", "color": "#ffffff", "fontSize": 10, "font": "Liberation Sans Narrow, Liberation Sans", "align": "center", "baseline": "middle"},
 "encoding": {
  "x": {"field": "d", "type": "quantitative", "title": null, "scale": {"domain": [-3.35, 72.02], "nice": false, "zero": false}, "axis": null},
  "y": {"datum": 0.5, "scale": {"domain": [0, 1], "nice": false}, "axis": null},
  "text": {"field": "t"}}},
{"data": {"name": "tags"}, "transform": [{"filter": "datum.k == 'b'"}],
 "mark": {"type": "bar", "width": 88, "color": "#0a0ae8"},
 "encoding": {
  "x": {"field": "d", "type": "quantitative", "title": null, "scale": {"domain": [-3.35, 72.02], "nice": false, "zero": false}, "axis": null},
  "y": {"datum": 0, "scale": {"domain": [0, 1], "nice": false}, "axis": null},
  "y2": {"datum": 1}}},
{"data": {"name": "tags"}, "transform": [{"filter": "datum.k == 'c'"}],
 "mark": {"type": "bar", "width": 88, "color": "#ff0a0a"},
 "encoding": {
  "x": {"field": "d", "type": "quantitative", "title": null, "scale": {"domain": [-3.35, 72.02], "nice": false, "zero": false}, "axis": null},
  "y": {"datum": 0, "scale": {"domain": [0, 1], "nice": false}, "axis": null},
  "y2": {"datum": 1}}},
{"data": {"name": "tags"}, "transform": [{"filter": "datum.k != 'a'"}],
 "mark": {"type": "text", "color": "#ffffff", "fontSize": 10, "font": "Liberation Sans Narrow, Liberation Sans", "align": "center", "baseline": "middle"},
 "encoding": {
  "x": {"field": "d", "type": "quantitative", "title": null, "scale": {"domain": [-3.35, 72.02], "nice": false, "zero": false}, "axis": null},
  "y": {"datum": 0.5, "scale": {"domain": [0, 1], "nice": false}, "axis": null},
  "text": {"field": "t"}}}
]
}
]
}
